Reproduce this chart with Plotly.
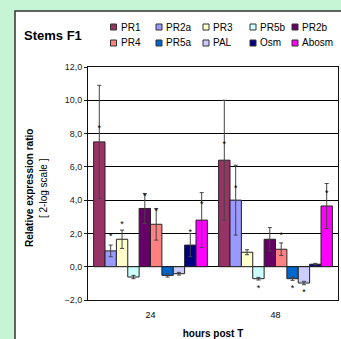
import plotly.graph_objects as go

# ---- data ----
series = ["PR1", "PR2a", "PR3", "PR5b", "PR2b", "PR4", "PR5a", "PAL", "Osm", "Abosm"]
colors = ["#993366", "#9999ff", "#ffffcc", "#ccffff", "#660066",
          "#ff8080", "#0066cc", "#ccccff", "#000080", "#ff00ff"]
categories = ["24", "48"]
val24 = [7.5, 0.95, 1.65, -0.62, 3.5, 2.55, -0.52, -0.42, 1.3, 2.8]
err24 = [3.4, 0.35, 0.55, 0.1, 0.9, 0.95, 0.1, 0.08, 0.7, 1.65]
val48 = [6.4, 4.0, 0.87, -0.72, 1.65, 1.05, -0.72, -0.98, 0.15, 3.65]
err48 = [3.6, 2.1, 0.15, 0.08, 0.7, 0.38, 0.1, 0.1, 0.05, 1.35]
star24 = [8.3, 1.8, 2.5, None, 4.2, 3.3, None, None, 2.05, 3.7]
star48 = [7.3, 4.7, None, -1.3, None, 1.86, -1.3, -1.54, None, 4.36]
yticks = [-2, 0, 2, 4, 6, 8, 10, 12]

W, H = 341, 339
ML, MR, MT, MB = 88, 3, 67, 39
PW, PH = W - ML - MR, H - MT - MB

def fx(px):
    return (px - ML) / PW

def fy(py):
    return (H - MB - py) / PH

FONT = "Arial, Liberation Sans, sans-serif"
bargap = 0.09
n = len(series)
bw = (1 - bargap) / n
xcat = list(range(len(categories)))

fig = go.Figure()
for i, s in enumerate(series):
    fig.add_trace(go.Bar(
        x=xcat, y=[val24[i], val48[i]], name=s,
        marker=dict(color=colors[i], line=dict(color="#222", width=1)),
        error_y=dict(type="data", array=[err24[i], err48[i]], color="#444",
                     thickness=1, width=2),
        showlegend=False,
    ))
    off = (i - (n - 1) / 2) * bw
    sx, sy = [], []
    for c, v in zip(xcat, [star24[i], star48[i]]):
        if v is not None:
            sx.append(c + off)
            sy.append(v)
    if sx:
        fig.add_trace(go.Scatter(
            x=sx, y=sy, mode="text", text=["*"] * len(sx),
            textfont=dict(family=FONT, size=9, color="#000"),
            textposition="middle center", showlegend=False, hoverinfo="skip",
        ))

shapes = [
    dict(type="rect", xref="paper", yref="paper", x0=fx(15), x1=fx(360),
         y0=fy(11), y1=fy(360), fillcolor="white",
         line=dict(color="#333", width=1.5), layer="below"),
]
annotations = [
    dict(text="<b>Stems F1</b>", xref="paper", yref="paper", x=fx(22), y=fy(36),
         xanchor="left", yanchor="middle", showarrow=False,
         font=dict(family=FONT, size=13, color="#000")),
    dict(text="<b>Relative expression ratio</b>",
         xref="paper", yref="paper", x=fx(29), y=fy(188), textangle=-90,
         xanchor="center", yanchor="middle", showarrow=False,
         font=dict(family=FONT, size=10, color="#000")),
    dict(text="[ 2-log scale ]",
         xref="paper", yref="paper", x=fx(43), y=fy(188), textangle=-90,
         xanchor="center", yanchor="middle", showarrow=False,
         font=dict(family=FONT, size=10, color="#000")),
]
colx = [113.5, 159, 206, 253, 295]
rowy = [27, 43]
for i, s in enumerate(series):
    cx = colx[i % 5]
    cy = rowy[i // 5]
    shapes.append(dict(type="rect", xref="paper", yref="paper",
                       x0=fx(cx - 3), x1=fx(cx + 3), y0=fy(cy - 3), y1=fy(cy + 3),
                       fillcolor=colors[i], line=dict(color="#333", width=1)))
    annotations.append(dict(text=s, xref="paper", yref="paper", x=fx(cx + 5), y=fy(cy),
                            xanchor="left", yanchor="middle", showarrow=False,
                            font=dict(family=FONT, size=10, color="#000")))

fig.update_layout(
    width=W, height=H,
    margin=dict(l=ML, r=MR, t=MT, b=MB, pad=0, autoexpand=False),
    paper_bgcolor="#c6f5d6", plot_bgcolor="white",
    barmode="group", bargap=bargap, bargroupgap=0,
    separators=",.",
    shapes=shapes, annotations=annotations,
    xaxis=dict(range=[-0.5, 1.5], tickvals=xcat, ticktext=categories,
               automargin=False,
               showgrid=False, zeroline=False, showline=True, linecolor="#111",
               linewidth=1, mirror=True, ticks="", ticklabelstandoff=6,
               tickfont=dict(family=FONT, size=9, color="#000"),
               title=dict(text="<b>hours post T</b>", standoff=12,
                          font=dict(family=FONT, size=10, color="#000"))),
    yaxis=dict(range=[-2, 12], tickvals=yticks, tickformat=".1f",
               automargin=False,
               showgrid=True, gridcolor="#000", gridwidth=1,
               zeroline=True, zerolinecolor="#000", zerolinewidth=1,
               showline=True, linecolor="#111", linewidth=1, mirror=True,
               ticks="outside", ticklen=3, tickcolor="#222",
               tickfont=dict(family=FONT, size=9, color="#222")),
)
fig.write_html("out.html", config={"displayModeBar": False},
               post_script="document.body.style.margin='0';document.body.style.overflow='hidden';")
